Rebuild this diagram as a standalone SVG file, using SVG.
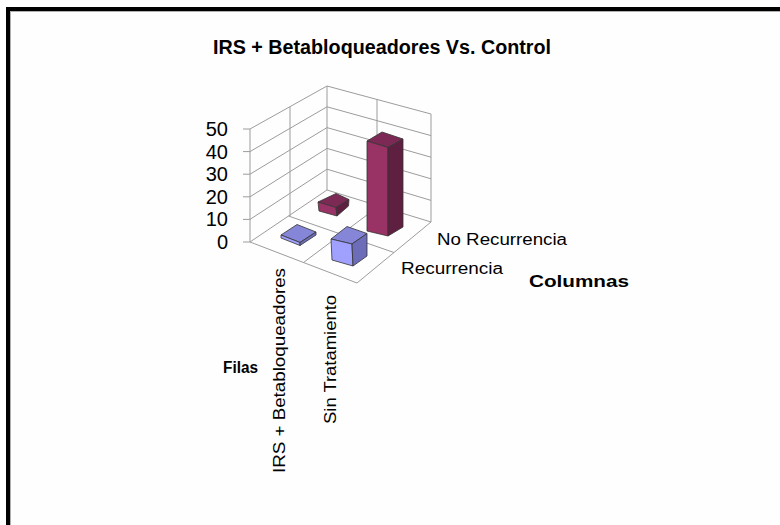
<svg xmlns="http://www.w3.org/2000/svg" width="780" height="525" viewBox="0 0 780 525">
<style>
text{font-family:"Liberation Sans",Arial,sans-serif;fill:#000}
.t{font-weight:bold;font-size:20px}
.ax{font-size:20px}
.lb{font-size:16px}
.b{font-weight:bold}
.g{stroke:#9c9c9c;stroke-width:1;fill:none}
.e{stroke:#333;stroke-width:0.8;stroke-linejoin:round}
.bt{fill:#8686d8}.bf{fill:#a0a0ff}.br{fill:#6c6cb8}
.mt{fill:#7c2a55}.mf{fill:#993366}.mr{fill:#5f1f40}
</style>
<rect x="0" y="0" width="780" height="525" fill="#fefefe"/>
<rect x="6" y="7" width="774" height="4" fill="#000"/>
<rect x="6" y="7" width="4" height="518" fill="#000"/>
<line x1="10" y1="11.5" x2="780" y2="11.5" stroke="#b0b0b0" stroke-width="1"/>
<line x1="10.5" y1="11" x2="10.5" y2="525" stroke="#b0b0b0" stroke-width="1"/>
<text class="t" x="382" y="54" text-anchor="middle" textLength="338" lengthAdjust="spacingAndGlyphs">IRS + Betabloqueadores Vs. Control</text>
<g id="connectors">
<polyline class="g" points="250,242 250,129 327,86 327,190"/>
<line class="g" x1="250" y1="219.4" x2="327" y2="169.2"/>
<line class="g" x1="250" y1="196.8" x2="327" y2="148.4"/>
<line class="g" x1="250" y1="174.2" x2="327" y2="127.6"/>
<line class="g" x1="250" y1="151.6" x2="327" y2="106.8"/>
<line class="g" x1="290" y1="107" x2="290" y2="216"/>
<polyline class="g" points="327,86 431,114 431,222"/>
<line class="g" x1="327" y1="169.2" x2="431" y2="200.4"/>
<line class="g" x1="327" y1="148.4" x2="431" y2="178.8"/>
<line class="g" x1="327" y1="127.6" x2="431" y2="157.2"/>
<line class="g" x1="327" y1="106.8" x2="431" y2="135.6"/>
<line class="g" x1="377" y1="99.5" x2="377" y2="205"/>
<polygon class="g" points="250,242 327,190 431,222 357,283"/>
<line class="g" x1="288.5" y1="216" x2="394" y2="252.5"/>
<line class="g" x1="303.5" y1="262.5" x2="379" y2="206"/>
<line class="g" x1="243" y1="242" x2="250" y2="242"/>
<line class="g" x1="243" y1="219.4" x2="250" y2="219.4"/>
<line class="g" x1="243" y1="196.8" x2="250" y2="196.8"/>
<line class="g" x1="243" y1="174.2" x2="250" y2="174.2"/>
<line class="g" x1="243" y1="151.6" x2="250" y2="151.6"/>
<line class="g" x1="243" y1="129" x2="250" y2="129"/>
</g>
<g id="axis-values" class="ax" text-anchor="end">
<text x="228" y="136">50</text>
<text x="228" y="159">40</text>
<text x="228" y="181">30</text>
<text x="228" y="204">20</text>
<text x="228" y="226">10</text>
<text x="228" y="249">0</text>
</g>
<g id="bar-irs-norec">
<polygon class="mt e" points="318,202 336,193.5 349,199.5 336,207.5"/>
<polygon class="mf e" points="318,202 336,207.5 337,216 319,211"/>
<polygon class="mr e" points="336,207.5 349,199.5 348.5,206 337,216"/>
</g>
<g id="bar-sin-norec">
<polygon class="mt e" points="367,141 382,132 403,139 388,147.5"/>
<polygon class="mf e" points="367,141 388,147.5 388,236 367,231"/>
<polygon class="mr e" points="388,147.5 403,139 403,227 388,236"/>
</g>
<g id="bar-irs-rec">
<polygon class="bt e" points="281,235 297,224.5 316,232 300,242.5"/>
<polygon class="bf e" points="281,235 300,242.5 300,245.5 281,238"/>
<polygon class="br e" points="300,242.5 316,232 316,235 300,245.5"/>
</g>
<g id="bar-sin-rec">
<polygon class="bt e" points="331,239 347,226.5 367,233.5 352,244"/>
<polygon class="bf e" points="331,239 352,244 353,266 332,260"/>
<polygon class="br e" points="352,244 367,233.5 367,256 353,266"/>
</g>
<g id="labels">
<text class="lb" x="437" y="245" textLength="130" lengthAdjust="spacingAndGlyphs">No Recurrencia</text>
<text class="lb" x="401" y="274" textLength="102" lengthAdjust="spacingAndGlyphs">Recurrencia</text>
<text class="lb b" x="529" y="287" textLength="100" lengthAdjust="spacingAndGlyphs">Columnas</text>
<text class="lb b" x="223" y="373" textLength="35" lengthAdjust="spacingAndGlyphs">Filas</text>
<text class="lb" transform="translate(285,473) rotate(-90)" textLength="205" lengthAdjust="spacingAndGlyphs">IRS + Betabloqueadores</text>
<text class="lb" transform="translate(336,424) rotate(-90)" textLength="129" lengthAdjust="spacingAndGlyphs">Sin Tratamiento</text>
</g>
</svg>
